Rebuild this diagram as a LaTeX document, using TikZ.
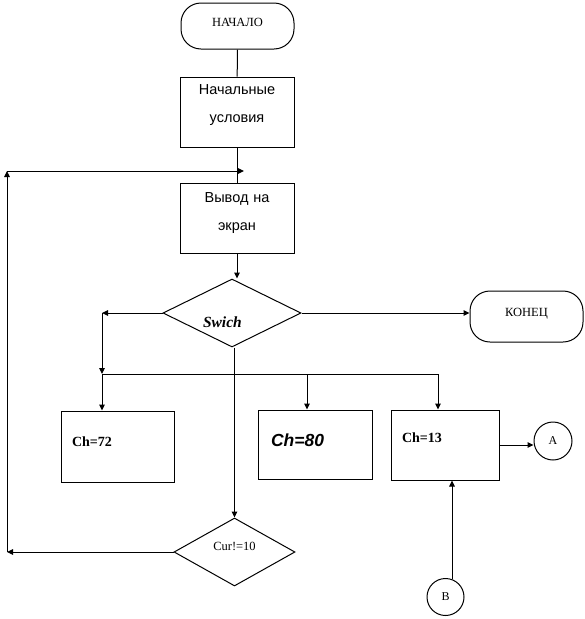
\documentclass[tikz,border=0pt]{standalone}
\usepackage{fontspec}
\setmainfont{Liberation Serif}
\newfontfamily\arialfont{Liberation Sans}
\usetikzlibrary{arrows.meta,shapes.geometric}

\begin{document}
\begin{tikzpicture}[x=1pt,y=-1pt,line width=1pt,
  >={Triangle[length=6pt,width=5.5pt]},
  term/.style={draw,rectangle,rounded corners=20pt,minimum width=113pt,
    text height=6pt,text depth=6pt,font=\fontsize{12.5}{14}\selectfont},
  proc/.style={draw,rectangle,minimum width=114pt,minimum height=70pt,inner sep=0pt,
    text width=104pt,align=center,font=\arialfont\fontsize{14.5}{28}\selectfont},
  chbox/.style={draw,rectangle,inner ysep=0pt,align=left},
  decide/.style={draw,diamond,aspect=2,inner sep=0pt,minimum height=68pt},
  conn/.style={draw,circle,inner sep=0pt,font=\fontsize{12}{14}\selectfont}]
  \useasboundingbox (0,0) rectangle (585,619);

  \node[term,minimum height=46pt] (start) at (237.5,26) {НАЧАЛО};
  \node[proc,text height=10pt,text depth=46pt] (init) at (237,112) {Начальные\\условия};
  \node[proc,text height=10pt,text depth=42pt] (vyvod) at (237,218) {Вывод на\\экран};
  \node[decide,minimum width=138pt,text width=58pt,align=left,text height=28pt,text depth=0pt,
    font=\bfseries\itshape\fontsize{15.5}{17}\selectfont] (swich) at (232,313) {Swich};
  \node[term,minimum height=51pt] (konec) at (526.5,316.5) {КОНЕЦ};
  \node[chbox,minimum width=113pt,minimum height=71pt,inner xsep=11pt,text width=91pt,
    text height=10pt,text depth=11pt,font=\bfseries\fontsize{14}{16}\selectfont] (ch72) at (117.5,446.5) {Ch=72};
  \node[chbox,minimum width=114pt,minimum height=69pt,inner xsep=13pt,text width=88pt,
    text height=12pt,text depth=9pt,font=\arialfont\bfseries\itshape\fontsize{17.5}{19}\selectfont] (ch80) at (315,444.5) {Ch=80};
  \node[chbox,minimum width=108pt,minimum height=70pt,inner xsep=11pt,text width=86pt,
    text height=8pt,text depth=14pt,font=\bfseries\fontsize{14}{16}\selectfont] (ch13) at (445,445) {Ch=13};
  \node[conn,minimum size=38pt] (A) at (553,441) {A};
  \node[conn,minimum size=37pt] (B) at (445.5,597) {B};
  \node[decide,minimum width=121pt,text height=8pt,text depth=12pt,
    font=\fontsize{12.5}{14}\selectfont] (cur) at (234.5,552) {Cur!=10};

  \coordinate (lt) at (7,171);
  \coordinate (lb) at (7,552);
  \coordinate (le) at (244,171);
  \coordinate (sl) at (102,313);
  \coordinate (sj) at (102,374);
  \coordinate (sm) at (307,374);
  \coordinate (sr) at (438,374);

  \draw (start) -- (init);
  \draw (init) -- (vyvod);
  \draw[->] (vyvod.south) -- (vyvod.south |- swich.north);
  \draw[->] (swich.east) -- (swich.east -| konec.west);
  \draw[->] (swich.west) -- (sl);
  \draw[->] (sl) -- (sj);
  \draw (sj) -- (sr);
  \draw[->] (sj) -- (sj |- ch72.north);
  \draw[->] (sm) -- (sm |- ch80.north);
  \draw[->] (sr) -- (sr |- ch13.north);
  \draw[->] (cur.north |- swich.south) -- (cur.north);
  \draw[->] (cur.west) -- (lb);
  \draw[->] (lb) -- (lt);
  \draw[->] (lt) -- (le);
  \draw[->] (ch13.east) -- (ch13.east -| A.west);
  \draw[->] (B.70) -- (B.70 |- ch13.south);
\end{tikzpicture}
\end{document}
